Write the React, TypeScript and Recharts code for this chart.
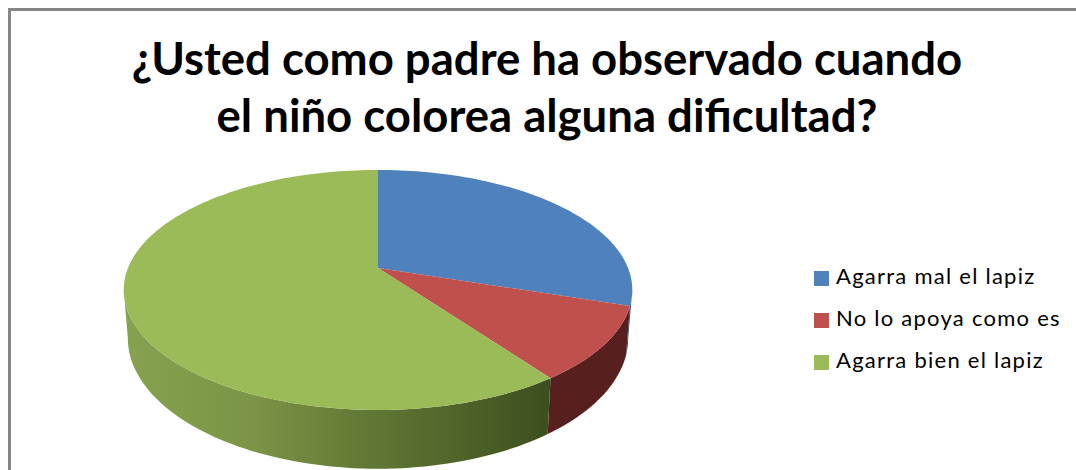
import { PieChart, Pie, Legend } from "recharts";

const categories = ["Agarra mal el lapiz", "No lo apoya como es", "Agarra bien el lapiz"];
const values = [30, 10, 60];
const topColors = ["#4f81bd", "#c0504d", "#9bbb59"];
const wallFills = ["#2f4d71", "#571f1d", "url(#greenWall)"];
const titleLines = ["¿Usted como padre ha observado cuando", "el niño colorea alguna dificultad?"];

const data = categories.map((name, i) => ({ name, value: values[i], fill: topColors[i] }));

// perspective of the tilted disc
const K = 0.183;
const TOP_Y = 116 / 250;
const BASE_R = 246 / 250;
const BASE_Y = 118 / 250;
const DROP = 46;

const project = (cx: number, cy: number, r: number, deg: number, lower = false) => {
  const a = (deg * Math.PI) / 180;
  const u = Math.cos(a);
  const v = -Math.sin(a);
  const s = 1 / (1 - K * v);
  if (lower) {
    return [cx + r * BASE_R * u * s, cy + (r * BASE_Y * v + DROP) * s];
  }
  return [cx + r * u * s, cy + r * TOP_Y * v * s];
};

const arc = (cx: number, cy: number, r: number, from: number, to: number, lower = false) => {
  const n = Math.max(2, Math.ceil(Math.abs(to - from) / 1.5));
  const pts = [];
  for (let i = 0; i <= n; i++) {
    pts.push(project(cx, cy, r, from + ((to - from) * i) / n, lower));
  }
  return pts;
};

const toPath = (pts: number[][]) => pts.map((p, i) => `${i ? "L" : "M"}${p[0].toFixed(1)},${p[1].toFixed(1)}`).join("") + "Z";

// front part of the rim, in recharts degrees (90 = top, going clockwise)
const FRONT_FROM = -10.5;
const FRONT_TO = -169.5;

const Slice3D = (props: any) => {
  const { cx, cy, outerRadius, startAngle, endAngle, fill, index } = props;
  const top = [[cx, cy], ...arc(cx, cy, outerRadius, startAngle, endAngle)];
  const from = Math.min(startAngle, FRONT_FROM);
  const to = Math.max(endAngle, FRONT_TO);
  const wall =
    from > to
      ? [...arc(cx, cy, outerRadius, from, to), ...arc(cx, cy, outerRadius, to, from, true)]
      : null;
  return (
    <g>
      {wall && <path d={toPath(wall)} fill={wallFills[index]} stroke="none" />}
      <path d={toPath(top)} fill={fill} stroke="none" />
    </g>
  );
};

const App = () => (
  <div style={{ position: "absolute", left: 0, top: 0, width: 1076, height: 470, overflow: "hidden", background: "#fff" }}>
    <div style={{ position: "absolute", left: 8, top: 8, width: 1100, height: 500, border: "3px solid #868686" }} />
    <div
      style={{
        position: "absolute",
        left: 8,
        top: 29,
        width: 1078,
        textAlign: "center",
        fontFamily: "Lato",
        fontWeight: 700,
        fontSize: 45.5,
        lineHeight: "57px",
        color: "#000",
        whiteSpace: "pre",
      }}
    >
      {titleLines.map((t) => (
        <div key={t}>{t}</div>
      ))}
    </div>
    <div style={{ position: "absolute", left: 0, top: 0 }}>
      <PieChart width={1076} height={470} margin={{ top: 0, right: 0, bottom: 0, left: 0 }}>
        <defs>
          <linearGradient id="greenWall" gradientUnits="userSpaceOnUse" x1="125" y1="0" x2="552" y2="0">
            <stop offset="0" stopColor="#86a24f" />
            <stop offset="0.3" stopColor="#7b9446" />
            <stop offset="0.55" stopColor="#637a36" />
            <stop offset="0.8" stopColor="#4d6228" />
            <stop offset="1" stopColor="#3d4e1e" />
          </linearGradient>
        </defs>
        <Pie
          data={data}
          dataKey="value"
          nameKey="name"
          cx={378}
          cy={268}
          outerRadius={250}
          startAngle={90}
          endAngle={-270}
          stroke="none"
          shape={Slice3D}
          isAnimationActive={false}
        />
        <Legend
          layout="vertical"
          align="center"
          verticalAlign="middle"
          iconType="square"
          iconSize={15}
          itemSorter={null}
          formatter={(value: string) => <span style={{ color: "#000", marginLeft: 3 }}>{value}</span>}
          wrapperStyle={{
            left: 814,
            top: 255,
            width: 262,
            textAlign: "left",
            fontFamily: "Lato",
            fontSize: 22,
            letterSpacing: 1.25,
            lineHeight: "42px",
          }}
        />
      </PieChart>
    </div>
  </div>
);

export default App;
